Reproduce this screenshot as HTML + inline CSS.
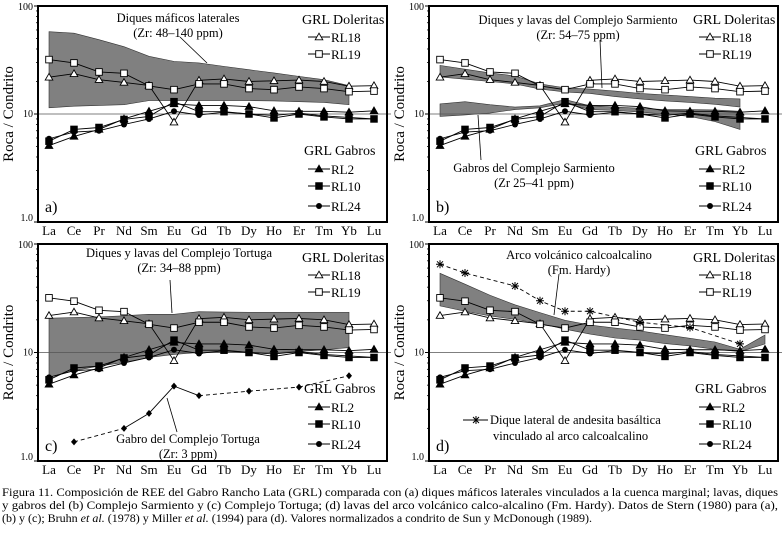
<!DOCTYPE html>
<html><head><meta charset="utf-8"><style>
html,body{margin:0;padding:0;background:#fff;}
svg, svg text{font-family:"Liberation Serif","DejaVu Serif",serif;fill:#000;}
</style></head><body>
<svg id="fig" width="782" height="538" viewBox="0 0 782 538" xmlns="http://www.w3.org/2000/svg" font-family="Liberation Serif, DejaVu Serif, serif">
<text x="2" y="496" font-size="12" font-family="Liberation Serif, serif" textLength="776" lengthAdjust="spacingAndGlyphs">Figura 11. Composición de REE del Gabro Rancho Lata (GRL) comparada con (a) diques máficos laterales vinculados a la cuenca marginal; lavas, diques</text>
<text x="2" y="509" font-size="12" font-family="Liberation Serif, serif" textLength="776" lengthAdjust="spacingAndGlyphs">y gabros del (b) Complejo Sarmiento y (c) Complejo Tortuga; (d) lavas del arco volcánico calco-alcalino (Fm. Hardy). Datos de Stern (1980) para (a),</text>
<text x="2" y="522" font-size="12" font-family="Liberation Serif, serif" textLength="590" lengthAdjust="spacingAndGlyphs">(b) y (c); Bruhn <tspan font-style="italic">et al.</tspan> (1978) y Miller <tspan font-style="italic">et al.</tspan> (1994) para (d). Valores normalizados a condrito de Sun y McDonough (1989).</text>
</svg>
<script>
const categories=["La","Ce","Pr","Nd","Sm","Eu","Gd","Tb","Dy","Ho","Er","Tm","Yb","Lu"];
const yTickLabels=["1.0","10","100"];
const rl18=[21.9,23.6,20.8,19.6,18.4,8.4,20.5,21.1,20,20.3,20.6,20,18.1,18.3];
const rl19=[31.9,29.7,24.5,23.8,18.2,16.8,19,19,17.2,16.8,17.8,17.2,16.1,16.3];
const rl2=[5.1,6.2,7.2,9.0,10.6,12.4,12,12,11.7,10.7,10.6,10.6,10.4,10.7];
const rl10=[5.6,7.2,7.5,8.9,9.5,13.0,10.5,10.5,10,9.2,10,9.4,9.0,9.0];
const rl24=[5.9,6.8,7.0,8.0,9.0,10.6,9.8,10.4,10,9.7,10.2,9.6,9.3,9.0];
const bandAUpper=[57.8,56,48.8,42,34.2,30.7,29.7,27.6,25.7,24,22.3,20.8,18.3];
const bandALower=[11.4,11.8,12,12.2,13.3,13.3,13.3,13.3,13.3,13.2,13,12.8,12.2];
const bandBDikesUpper=[28.2,26,24,22.5,19,17.5,17,16.3,15.5,15,14.5,14,13.8];
const bandBDikesLower=[22,21,20,19,17,16,15.5,14.5,13.8,13.2,12.8,12.3,11.6];
const bandBGabbroUpper=[12.4,13,12.2,11.6,11.9,13.6,11.9,11.6,11.3,11,11,10.9,10.6];
const bandBGabbroLower=[9.5,9.8,10.2,11,11.4,12.6,11,10.8,10.4,10,9.5,8.5,7.2];
const bandCUpper=[20.7,21,21.3,21.8,22.5,22.5,23.8,23.6,23.5,23.5,23.5,23.5,23.5];
const bandCLower=[5.9,6.8,7.5,8.1,9,9.6,10,10,10,10,10.2,10.6,11.1];
const bandDUpper=[53.7,42.6,33.7,27.5,23.3,19.8,17.9,16.8,15.8,14.6,13.5,12.5,10.7,14.5];
const bandDLower=[26.9,24,21.7,20.2,18.5,16.4,14.8,13.6,13,12.1,11.5,10.7,10.2,12];
const tortugaCats=["Ce","Nd","Sm","Eu","Gd","Dy","Er","Yb"];
const tortugaVals=[1.5,2.0,2.75,4.9,4.0,4.4,4.8,6.1];
const tortugaDashed=[true,false,false,false,true,true,true];
const hardyCats=["La","Ce","Nd","Sm","Eu","Gd","Dy","Er","Yb"];
const hardyVals=[65,54,41,30,24,24,19,17,12];

const svg=document.getElementById('fig');
const NS="http://www.w3.org/2000/svg";
function mk(tag,attrs,parent){const e=document.createElementNS(NS,tag);for(const k in attrs)e.setAttribute(k,attrs[k]);if(tag==='text')e.setAttribute('font-family','Liberation Serif, DejaVu Serif, serif');(parent||svg).appendChild(e);return e;}

const panels=[
 {id:'a',L:38,R:387,T:6,B:222},
 {id:'b',L:429,R:778,T:6,B:222},
 {id:'c',L:38,R:387,T:244,B:461},
 {id:'d',L:429,R:778,T:244,B:461}
];

function marker(g,type,x,y){
  let m;
  if(type==='otri'||type==='ftri'){m=mk('polygon',{points:`${x},${y-3.8} ${x-3.8},${y+2.8} ${x+3.8},${y+2.8}`,fill:type==='ftri'?'#000':'#fff',stroke:'#000','stroke-width':0.9},g);}
  else if(type==='osq'||type==='fsq'){m=mk('rect',{x:x-3.3,y:y-3.3,width:6.6,height:6.6,fill:type==='fsq'?'#000':'#fff',stroke:'#000','stroke-width':0.9},g);}
  else if(type==='fcir'){m=mk('circle',{cx:x,cy:y,r:3,fill:'#000'},g);}
  else if(type==='dia'){m=mk('polygon',{points:`${x},${y-3.5} ${x+3},${y} ${x},${y+3.5} ${x-3},${y}`,fill:'#000'},g);}
  else if(type==='star'){m=mk('path',{d:`M${x-4},${y}H${x+4}M${x},${y-4}V${y+4}M${x-3},${y-3}L${x+3},${y+3}M${x-3},${y+3}L${x+3},${y-3}`,stroke:'#000','stroke-width':1,fill:'none'},g);}
  return m;
}

panels.forEach(p=>{
  const g=mk('g',{});
  
  
  const xs=i=>p.L+11+i*25;
  const ys=v=>p.B-(Math.log10(v))*(p.B-p.T)/2;
  const xc=c=>xs(categories.indexOf(c));
  const band=(up,lo,name)=>{
    let d='M'+up.map((v,i)=>xs(i)+','+ys(v)).join('L');
    for(let i=lo.length-1;i>=0;i--)d+='L'+xs(i)+','+ys(lo[i]);
    const e=mk('path',{d:d+'Z',fill:'#808080',stroke:'#333','stroke-width':0.6},g);
    
    
  };
  if(p.id==='a')band(bandAUpper,bandALower,'band-diques-maficos');
  if(p.id==='b'){band(bandBDikesUpper,bandBDikesLower,'band-diques-sarmiento');band(bandBGabbroUpper,bandBGabbroLower,'band-gabros-sarmiento');}
  if(p.id==='c')band(bandCUpper,bandCLower,'band-diques-tortuga');
  if(p.id==='d')band(bandDUpper,bandDLower,'band-arco-hardy');
  const rl=mk('line',{x1:p.L,x2:p.R+4,y1:ys(10),y2:ys(10),stroke:'#555','stroke-width':0.8},g);
  
  
  const series=[[rl2,'ftri','series-rl2'],[rl10,'fsq','series-rl10'],[rl24,'fcir','series-rl24'],[rl18,'otri','series-rl18'],[rl19,'osq','series-rl19']];
  series.forEach(([vals,type,name])=>{
    const sg=mk('g',{},g);
    
    
    mk('polyline',{points:vals.map((v,i)=>xs(i)+','+ys(v)).join(' '),fill:'none',stroke:'#000','stroke-width':0.9},sg);
    vals.forEach((v,i)=>marker(sg,type,xs(i),ys(v)));
  });
  if(p.id==='c'){
    const sg=mk('g',{},g);
    
    
    for(let i=0;i<tortugaVals.length-1;i++){
      const a={stroke:'#000','stroke-width':0.9,x1:xc(tortugaCats[i]),y1:ys(tortugaVals[i]),x2:xc(tortugaCats[i+1]),y2:ys(tortugaVals[i+1])};
      if(tortugaDashed[i])a['stroke-dasharray']='4,3';
      mk('line',a,sg);
    }
    tortugaVals.forEach((v,i)=>marker(sg,'dia',xc(tortugaCats[i]),ys(v)));
  }
  if(p.id==='d'){
    const sg=mk('g',{},g);
    
    
    mk('polyline',{points:hardyVals.map((v,i)=>xc(hardyCats[i])+','+ys(v)).join(' '),fill:'none',stroke:'#000','stroke-width':0.9,'stroke-dasharray':'4,3'},sg);
    hardyVals.forEach((v,i)=>marker(sg,'star',xc(hardyCats[i]),ys(v)));
  }
  const fr=mk('rect',{x:p.L,y:p.T,width:p.R-p.L,height:p.B-p.T,fill:'none',stroke:'#000','stroke-width':2},g);
  
  
  yTickLabels.forEach((t,i)=>{
    const v=Math.pow(10,i);
    const y=ys(v);
    mk('line',{x1:p.L-4,x2:p.L,y1:y,y2:y,stroke:'#000','stroke-width':1},g);
    const tx=mk('text',{x:p.L-5,y:y+(i===0?-1:(i===2?4:3)),'font-size':10,'text-anchor':'end'},g);
    tx.textContent=t;
    
    
    if(i<2)for(let k=2;k<10;k++){const yy=ys(v*k);mk('line',{x1:p.L-2,x2:p.L,y1:yy,y2:yy,stroke:'#000','stroke-width':0.8},g);}
  });
  categories.forEach((c,i)=>{
    const tx=mk('text',{x:xs(i),y:p.B+13,'font-size':13,'text-anchor':'middle'},g);
    tx.textContent=c;
    
    
  });
  const cy=(p.T+p.B)/2;
  const yt=mk('text',{x:0,y:0,'font-size':15,'text-anchor':'middle',transform:`translate(${p.L-25},${cy}) rotate(-90)`},g);
  yt.textContent='Roca / Condrito';
  
  
  const pl=mk('text',{x:p.L+7,y:p.B-10,'font-size':16},g);
  pl.textContent=p.id+')';
  
  
  const lx=p.L+264;
  const lg=mk('g',{},g);
  
  
  const t1=mk('text',{x:p.L+264,y:p.T+18,'font-size':14},lg);t1.textContent='GRL Doleritas';
  const t2=mk('text',{x:p.L+266,y:p.T+149,'font-size':14},lg);t2.textContent='GRL Gabros';
  const ent=[['otri','RL18',31],['osq','RL19',48],['ftri','RL2',163],['fsq','RL10',180],['fcir','RL24',200]];
  ent.forEach(([type,lab,dy])=>{
    const eg=mk('g',{},lg);
    
    
    const y=p.T+dy;
    mk('line',{x1:lx+6,x2:lx+28,y1:y,y2:y,stroke:'#000','stroke-width':0.9},eg);
    marker(eg,type,lx+17,y);
    const t=mk('text',{x:lx+29,y:y+5,'font-size':13},eg);t.textContent=lab;
  });
  const note=(lines,cx,ys0,leader,name)=>{
    const ng=mk('g',{},g);
    
    
    lines.forEach((l,i)=>{const t=mk('text',{x:cx,y:ys0+i*15,'font-size':12.5,'text-anchor':'middle'},ng);t.textContent=l;});
    mk('line',{x1:leader[0],y1:leader[1],x2:leader[2],y2:leader[3],stroke:'#000','stroke-width':0.8},ng);
  };
  if(p.id==='a')note(['Diques máficos laterales','(Zr: 48–140 ppm)'],178,22,[180,37,207,63],'annotation-diques-maficos');
  if(p.id==='b'){note(['Diques y lavas del Complejo Sarmiento','(Zr: 54–75 ppm)'],578,24,[600,40,602,88],'annotation-diques-sarmiento');
    note(['Gabros del Complejo Sarmiento','(Zr 25–41 ppm)'],534,172,[481,160,478,115],'annotation-gabros-sarmiento');}
  if(p.id==='c'){note(['Diques y lavas del Complejo Tortuga','(Zr: 34–88 ppm)'],179,257,[170,280,172,313],'annotation-diques-tortuga');
    note(['Gabro del Complejo Tortuga','(Zr: 3 ppm)'],188,443,[167,398,177,432],'annotation-gabro-tortuga');}
  if(p.id==='d'){note(['Arco volcánico calcoalcalino','(Fm. Hardy)'],579,259,[559,274,554,315],'annotation-arco-hardy');
    const ng=mk('g',{},g);
    
    
    mk('line',{x1:463,x2:488,y1:420,y2:420,stroke:'#000','stroke-width':0.9},ng);
    marker(ng,'star',476,420);
    const a=mk('text',{x:490,y:424,'font-size':12.5},ng);a.textContent='Dique lateral de andesita basáltica';
    const b=mk('text',{x:493,y:440,'font-size':12.5},ng);b.textContent='vinculado al arco calcoalcalino';
  }
});
</script>
</body></html>
